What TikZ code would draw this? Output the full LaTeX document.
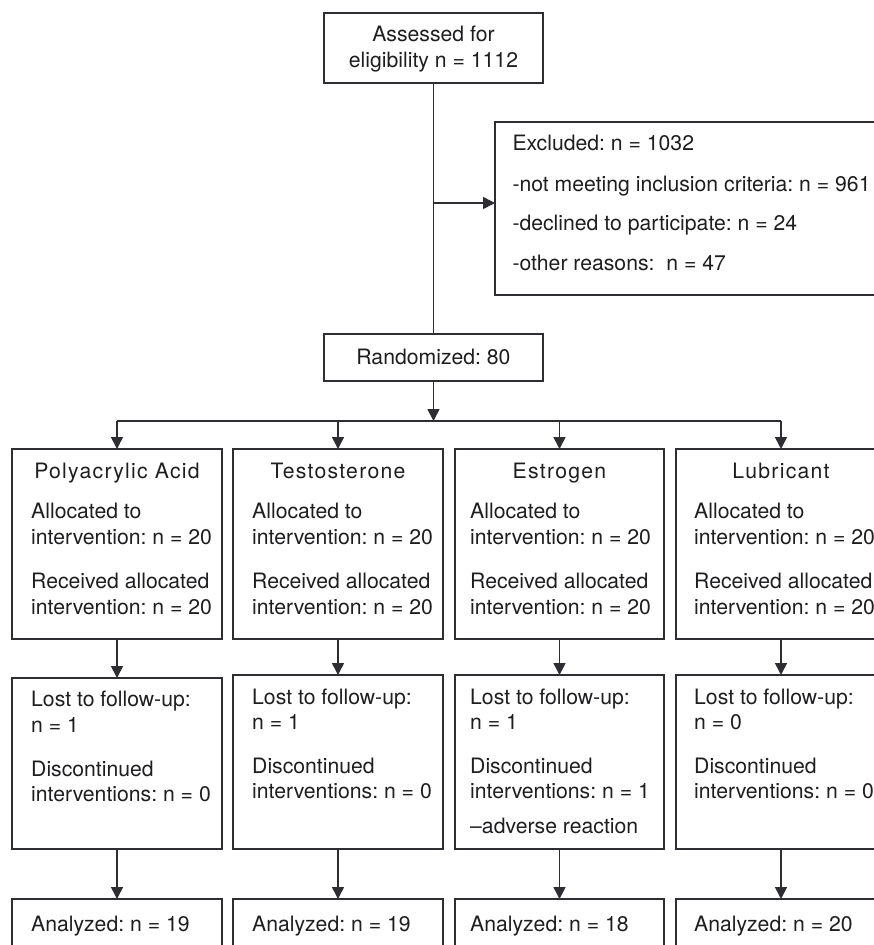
\documentclass[tikz,border=0pt]{standalone}
\usepackage{fontspec}
\setmainfont{TeX Gyre Heros}
\usetikzlibrary{arrows.meta,calc}
\definecolor{ln}{RGB}{45,45,50}
\definecolor{tx}{RGB}{30,30,33}
\frenchspacing
\begin{document}
\begin{tikzpicture}[x=1pt,y=-1pt,
  bx/.style={draw=ln, line width=1.6pt, inner sep=0pt, outer sep=0pt, anchor=north west},
  tl/.style={anchor=base west, inner sep=0pt, text=tx, font=\fontsize{21.2}{26}\selectfont},
  tc/.style={anchor=base, inner sep=0pt, text=tx, font=\fontsize{21.2}{26}\selectfont},
  ttl/.style={anchor=base, inner sep=0pt, text=tx, font=\fontsize{21.2}{26}\selectfont\addfontfeature{LetterSpace=6}},
  arr/.style={draw=ln, line width=1.6pt, -{Triangle[length=12pt,width=12pt]}},
  lnk/.style={draw=ln, line width=1.6pt}]
\useasboundingbox (0,0) rectangle (874,945);
\clip (0,0) rectangle (874,945);

% top boxes
\node[bx, minimum width=219pt, minimum height=70pt] (assess) at (324,13) {};
\node[tc] (assessA) at (433.5,41.7) {Assessed for};
\node[tc] (assessB) at (433.5,67.7) {eligibility n = 1112};

\node[bx, minimum width=420pt, minimum height=173pt] (excl) at (495,122) {};
\node[tl] (exclA) at (512.3,150.7) {Excluded: n = 1032};
\node[tl] (exclB) at (512.3,191) {-not meeting inclusion criteria: n = 961};
\node[tl] (exclC) at (512.3,230.7) {-declined to participate: n = 24};
\node[tl] (exclD) at (512.3,270.7) {-other reasons:\ \ n = 47};

\node[bx, minimum width=219pt, minimum height=47pt] (rand) at (324,334) {};
\node[tc] (randA) at (433.5,364) {Randomized: 80};

\coordinate (j1) at (433.5,203);
\coordinate (hb) at (433.5,421);
\draw[lnk] (assess.south) -- (rand.north);
\draw[arr] (j1) -- (j1 -| excl.west);
\draw[arr] (rand.south) -- (hb);

% row 1 boxes
\foreach \i/\bxl/\bw/\txl/\ttl in {1/12/210/31/Polyacrylic Acid,2/233/210/252/Testosterone,3/455/209/470/Estrogen,4/676/210/694/Lubricant}{
  \node[bx, minimum width=\bw pt, minimum height=190pt] (a\i) at (\bxl,449) {};
  \node[ttl] (a\i t) at (\bxl+\bw/2,478) {\ttl};
  \node[tl] (a\i l1) at (\txl,518) {Allocated to};
  \node[tl] (a\i l2) at (\txl,544) {intervention: n = 20};
  \node[tl] (a\i l3) at (\txl,588) {Received allocated};
  \node[tl] (a\i l4) at (\txl,614) {intervention: n = 20};
}
\draw[lnk] (a1.north |- hb) -- (a4.north |- hb);
\foreach \i in {1,2,3,4}{ \draw[arr] (a\i.north |- hb) -- (a\i.north); }

% row 2 boxes
\node[bx, minimum width=210pt, minimum height=171pt] (b1) at (12,678) {};
\node[bx, minimum width=210pt, minimum height=174pt] (b2) at (233,675) {};
\node[bx, minimum width=209pt, minimum height=174pt] (b3) at (455,675) {};
\node[bx, minimum width=210pt, minimum height=174pt] (b4) at (676,675) {};

\node[tl] (b1l1) at (31,706.7) {Lost to follow-up:};
\node[tl] (b1l2) at (31,732.7) {n = 1};
\node[tl] (b1l3) at (31,776) {Discontinued};
\node[tl] (b1l4) at (31,801.7) {interventions: n = 0};

\node[tl] (b2l1) at (252,704) {Lost to follow-up:};
\node[tl] (b2l2) at (252,729.3) {n = 1};
\node[tl] (b2l3) at (252,773.3) {Discontinued};
\node[tl] (b2l4) at (252,798.3) {interventions: n = 0};

\node[tl] (b3l1) at (470,704) {Lost to follow-up:};
\node[tl] (b3l2) at (470,729.3) {n = 1};
\node[tl] (b3l3) at (470,773.3) {Discontinued};
\node[tl] (b3l4) at (470,798.3) {interventions: n = 1};
\node[tl] (b3l5) at (470,833) {–adverse reaction};

\node[tl] (b4l1) at (694,704) {Lost to follow-up:};
\node[tl] (b4l2) at (694,729.3) {n = 0};
\node[tl] (b4l3) at (694,773.3) {Discontinued};
\node[tl] (b4l4) at (694,798.3) {interventions: n = 0};

% row 3 boxes
\foreach \i/\bxl/\bw/\txl/\n in {1/12/210/31/19,2/233/210/252/19,3/455/209/470/18,4/676/210/694/20}{
  \node[bx, minimum width=\bw pt, minimum height=80pt] (c\i) at (\bxl,899) {};
  \node[tl] (c\i t) at (\txl,931) {Analyzed: n = \n};
}

\foreach \i in {1,2,3,4}{
  \draw[arr] (a\i.south) -- (b\i.north);
  \draw[arr] (b\i.south) -- (c\i.north);
}
\end{tikzpicture}
\end{document}
